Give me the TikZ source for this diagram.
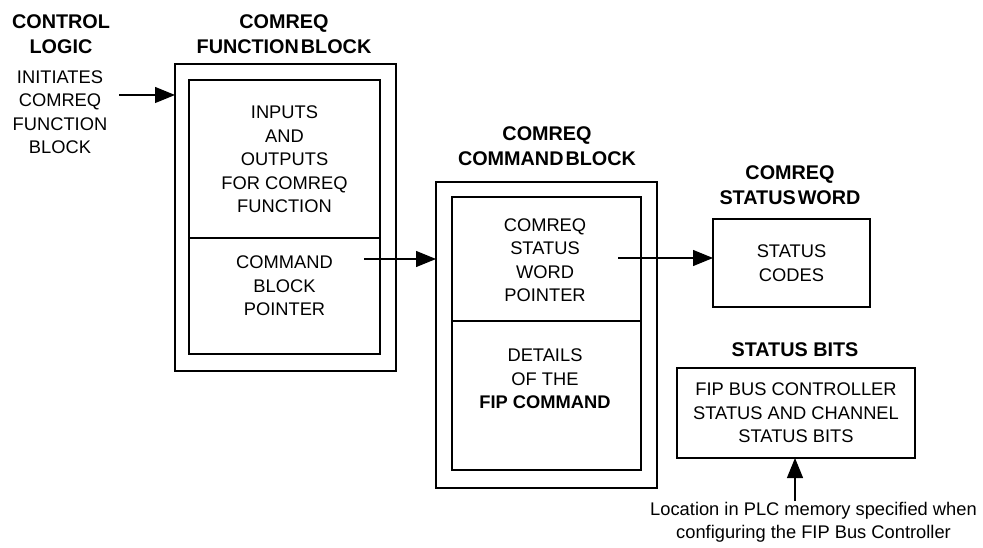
\documentclass[tikz,border=0pt]{standalone}
\usepackage{fontspec}
\setmainfont{Liberation Sans}
\usetikzlibrary{arrows.meta}
\begin{document}
\begin{tikzpicture}[x=1pt,y=-1pt,
  box/.style={draw, line width=1.2pt, inner sep=0pt, outer sep=0pt, anchor=north west},
  txt/.style={align=center, font=\fontsize{18.3}{23.5}\selectfont, inner sep=0pt},
  head/.style={align=center, font=\fontsize{19.8}{25}\selectfont\bfseries, inner sep=0pt},
  arr/.style={-{Triangle[length=20pt,width=16pt]}, line width=1.2pt}]
\useasboundingbox (0,0) rectangle (983,548);

% control logic
\node[head] (clh) at (61,34.5) {CONTROL\\LOGIC};
\node[txt] (clt) at (60,112) {INITIATES\\COMREQ\\FUNCTION\\BLOCK};
\coordinate (ca) at (119,95);

% function block
\node[head] (fbh) at (284,34.5) {COMREQ\\FUNCTION\hspace{2pt}BLOCK};
\node[box, minimum width=221pt, minimum height=307pt] (fbo) at (175,64) {};
\node[box, minimum width=191pt, minimum height=274pt] (fbi) at (189,80) {};
\draw[line width=1.2pt] (fbi.west |- 0,238) -- (fbi.east |- 0,238);
\node[txt] (fbt1) at (284.5,159.5) {INPUTS\\AND\\OUTPUTS\\FOR COMREQ\\FUNCTION};
\node[txt] (fbt2) at (284.5,286) {COMMAND\\BLOCK\\POINTER};
\coordinate (pa) at (364,259);

% command block
\node[head] (cbh) at (547,146) {COMREQ\\COMMAND\hspace{2pt}BLOCK};
\node[box, minimum width=221pt, minimum height=306pt] (cbo) at (436,182) {};
\node[box, minimum width=189pt, minimum height=273pt] (cbi) at (452,197) {};
\draw[line width=1.2pt] (cbi.west |- 0,321) -- (cbi.east |- 0,321);
\node[txt] (cbt1) at (545,260) {COMREQ\\STATUS\\WORD\\POINTER};
\node[txt] (cbt2) at (545,379) {DETAILS\\OF THE\\\textbf{FIP COMMAND}};
\coordinate (pb) at (618,258);

% status word
\node[head] (swh) at (790,185) {COMREQ\\STATUS\hspace{2pt}WORD};
\node[box, minimum width=157pt, minimum height=88pt] (sw) at (713,219) {};
\node[txt] (swt) at (sw.center) {STATUS\\CODES};

% status bits
\node[head] (sbh) at (795,350) {STATUS BITS};
\node[box, minimum width=238pt, minimum height=90pt] (sb) at (677,368) {};
\node[txt] (sbt) at (sb.center) {FIP BUS CONTROLLER\\STATUS AND CHANNEL\\STATUS BITS};
\coordinate (pc) at (795,501);
\node[txt] (loc) at (813.5,522.5) {Location in PLC memory specified when\\configuring the FIP Bus Controller};

% connectors
\draw[arr] (ca) -- (fbo.west |- ca);
\draw[arr] (pa) -- (cbo.west |- pa);
\draw[arr] (pb) -- (sw.west |- pb);
\draw[arr] (pc) -- (sb.south -| pc);
\end{tikzpicture}
\end{document}
